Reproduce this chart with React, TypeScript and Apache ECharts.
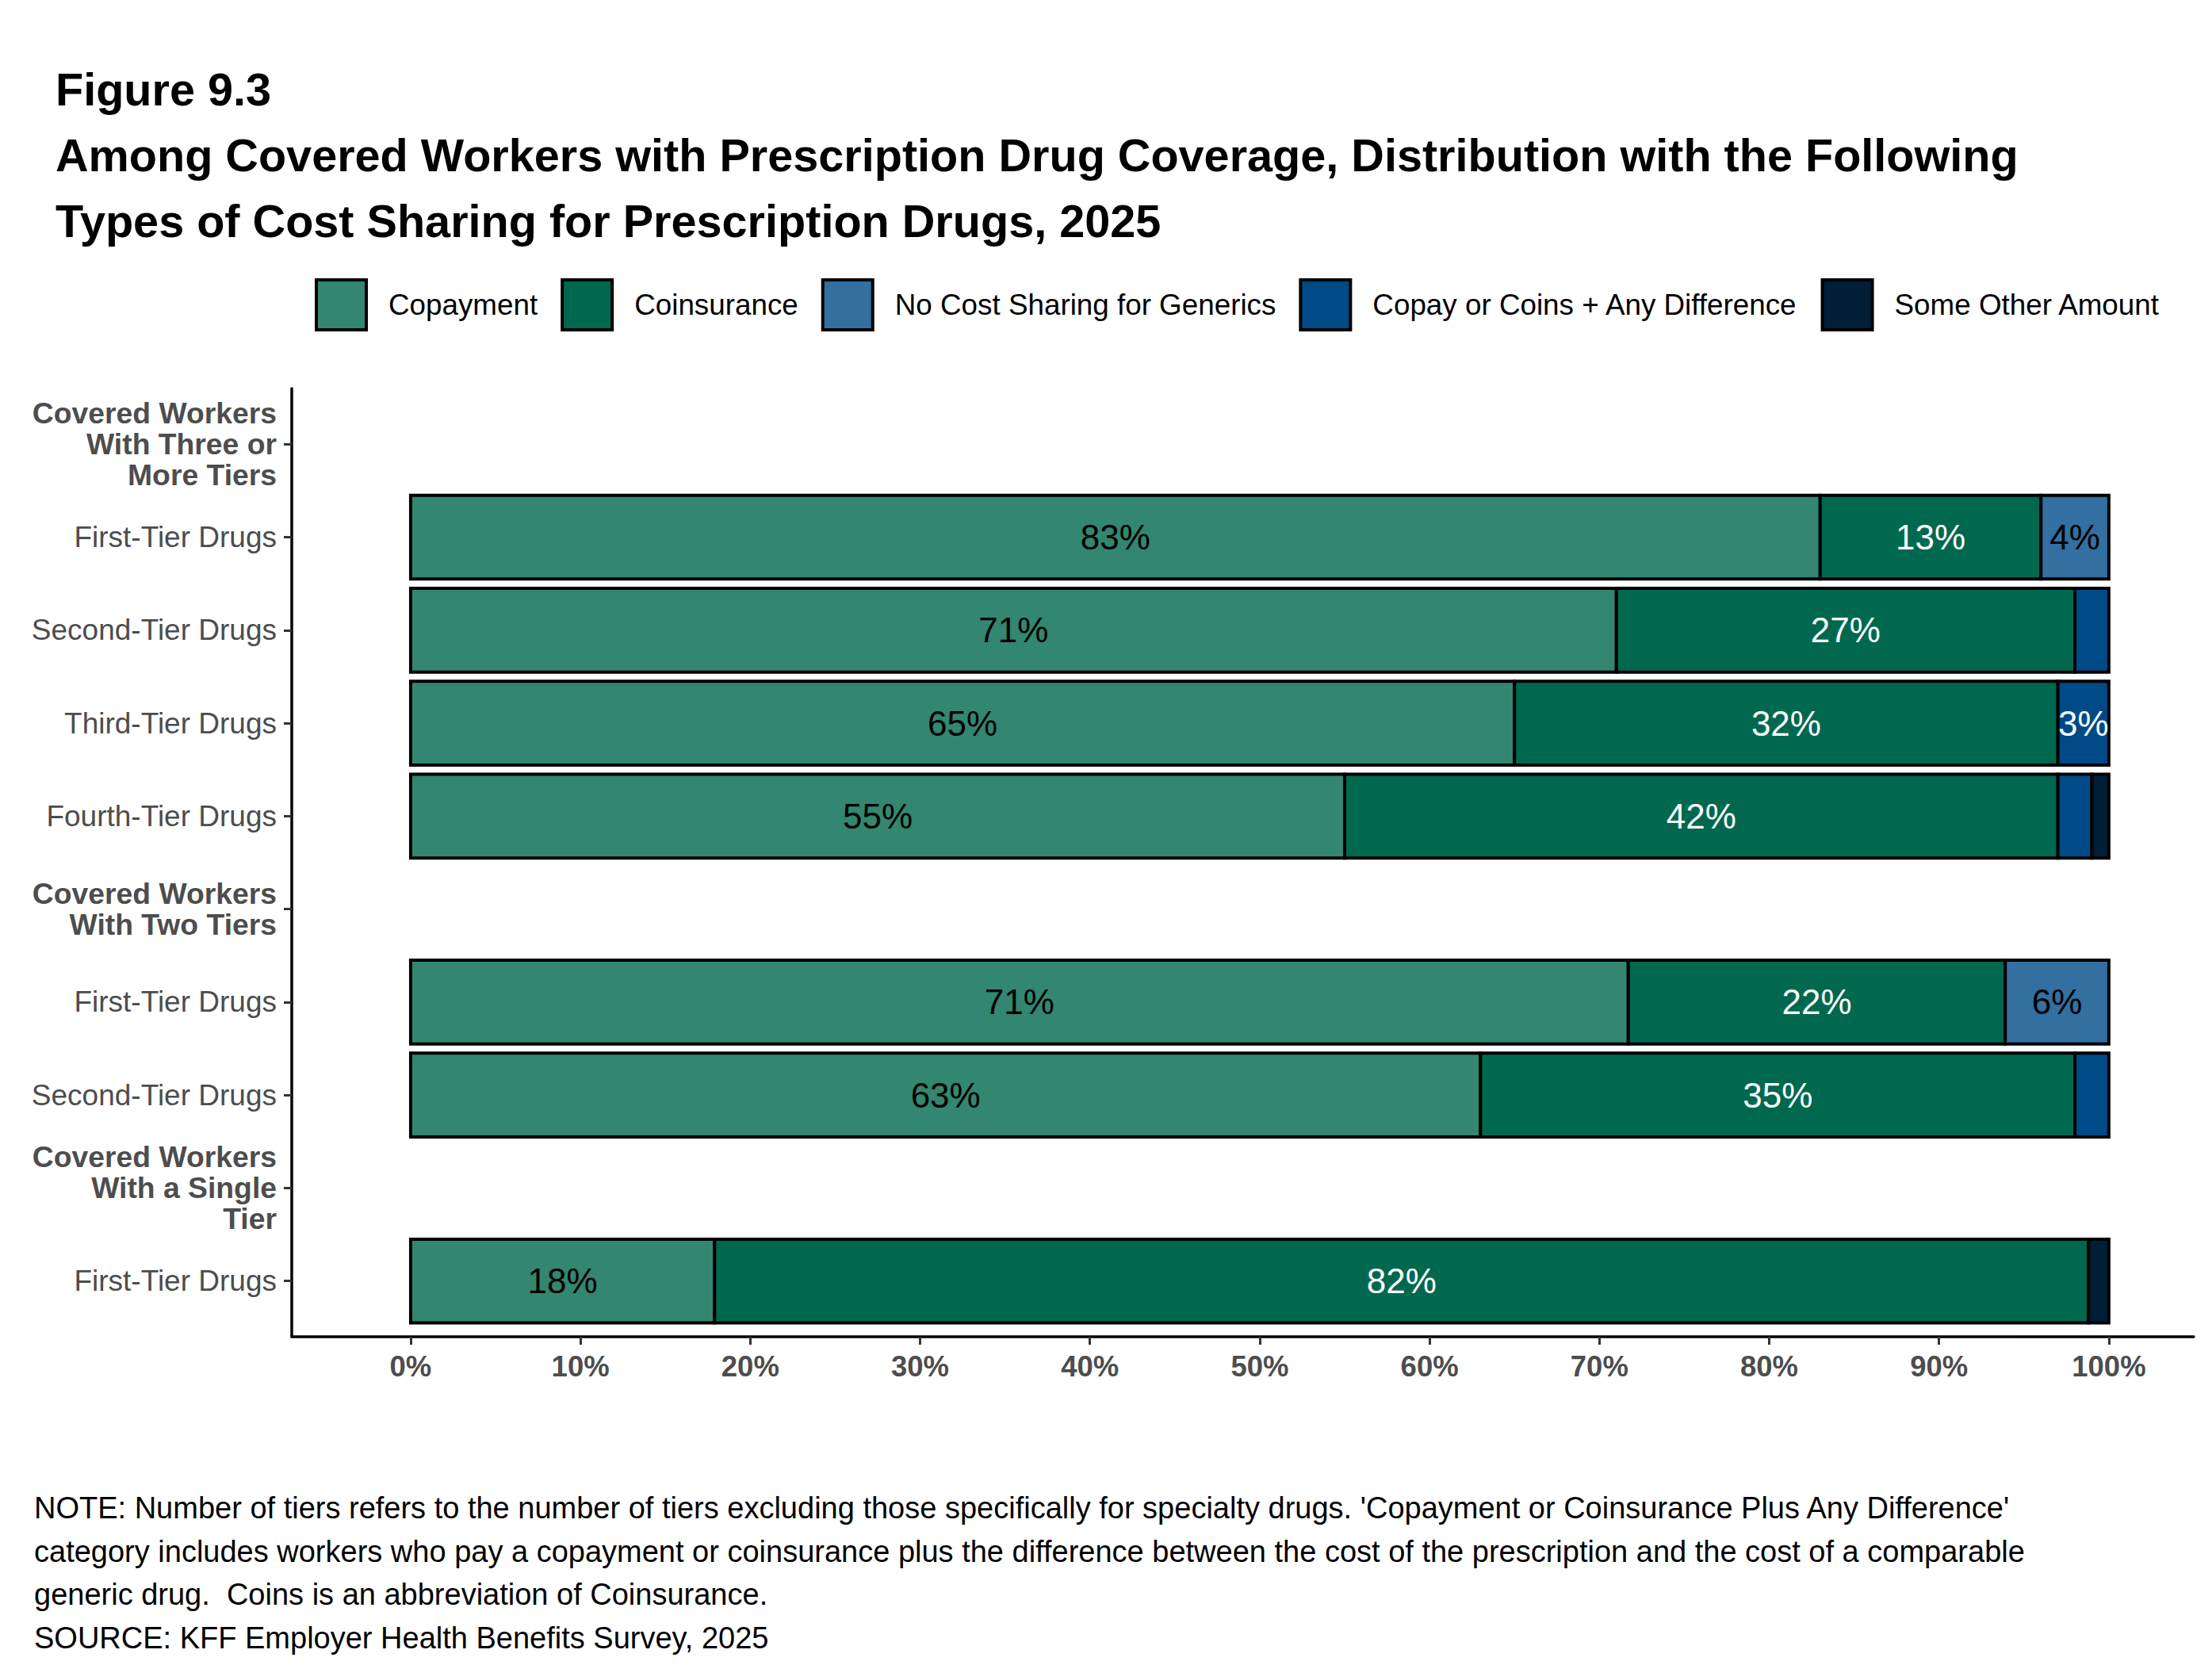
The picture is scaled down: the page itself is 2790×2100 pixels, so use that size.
import { useEffect, useRef } from "react";
import * as echarts from "echarts";

const FONT = "'Liberation Sans', Arial, sans-serif";

const rowLabels = [
  "Covered Workers\nWith Three or\nMore Tiers",
  "First-Tier Drugs",
  "Second-Tier Drugs",
  "Third-Tier Drugs",
  "Fourth-Tier Drugs",
  "Covered Workers\nWith Two Tiers",
  "First-Tier Drugs",
  "Second-Tier Drugs",
  "Covered Workers\nWith a Single\nTier",
  "First-Tier Drugs",
];
const headerRows = [true, false, false, false, false, true, false, false, true, false];

const seriesNames = [
  "Copayment",
  "Coinsurance",
  "No Cost Sharing for Generics",
  "Copay or Coins + Any Difference",
  "Some Other Amount",
];

// bar lengths (share of workers, %)
const copayment = [null, 83, 71, 65, 55, null, 71.7, 63, null, 17.9];
const coinsurance = [null, 13, 27, 32, 42, null, 22.2, 35, null, 80.9];
const noCostGenerics = [null, 4, 0, 0, 0, null, 6.1, 0, null, 0];
const copayCoinsDiff = [null, 0, 2, 3, 2, null, 0, 2, null, 0];
const someOther = [null, 0, 0, 0, 1, null, 0, 0, null, 1.2];

// printed labels
const copaymentLabels = [null, 83, 71, 65, 55, null, 71, 63, null, 18];
const coinsuranceLabels = [null, 13, 27, 32, 42, null, 22, 35, null, 82];
const noCostLabels = [null, 4, 0, 0, 0, null, 6, 0, null, 0];
const copayCoinsLabels = [null, 0, 2, 3, 2, null, 0, 2, null, 0];
const someOtherLabels = [null, 0, 0, 0, 1, null, 0, 0, null, 1];

const xTicks = [0, 10, 20, 30, 40, 50, 60, 70, 80, 90, 100];
const rowTicks = [0, 1, 2, 3, 4, 5, 6, 7, 8, 9];

const colors = ["#33866F", "#00684F", "#336FA0", "#004A87", "#001E36"];
const labelColors = ["#000000", "#ffffff", "#000000", "#ffffff", "#ffffff"];

const titleText =
  "Figure 9.3\nAmong Covered Workers with Prescription Drug Coverage, Distribution with the Following\nTypes of Cost Sharing for Prescription Drugs, 2025";
const noteText =
  "NOTE: Number of tiers refers to the number of tiers excluding those specifically for specialty drugs. 'Copayment or Coinsurance Plus Any Difference'\n" +
  "category includes workers who pay a copayment or coinsurance plus the difference between the cost of the prescription and the cost of a comparable\n" +
  "generic drug.  Coins is an abbreviation of Coinsurance.\n" +
  "SOURCE: KFF Employer Health Benefits Survey, 2025";

export default function App() {
  const chartRef = useRef(null);
  useEffect(() => {
    document.body.style.margin = "0";
    const chart = echarts.init(chartRef.current, null, { renderer: "svg" });
    chart.setOption(getChartOption());
    return () => {
      chart.dispose();
    };
  }, []);
  return <div ref={chartRef} style={{ width: "2790px", height: "2100px" }} />;
}

function getChartOption() {
  const values = [copayment, coinsurance, noCostGenerics, copayCoinsDiff, someOther];
  const labels = [copaymentLabels, coinsuranceLabels, noCostLabels, copayCoinsLabels, someOtherLabels];

  const cum = rowLabels.map(() => 0);
  const series = seriesNames.map((name, s) => {
    const data = [];
    rowLabels.forEach((_, i) => {
      const v = values[s][i];
      if (v == null || v <= 0) return;
      data.push([i, cum[i], cum[i] + v, labels[s][i]]);
      cum[i] += v;
    });
    return {
      type: "custom",
      name,
      coordinateSystem: "cartesian2d",
      encode: { x: [1, 2], y: 0 },
      itemStyle: { color: colors[s] },
      data,
      renderItem: (params, api) => {
        const row = api.value(0);
        const p0 = api.coord([api.value(1), row]);
        const p1 = api.coord([api.value(2), row]);
        const h = api.size([0, 0.9])[1];
        const lab = api.value(3);
        const children: any[] = [
          {
            type: "rect",
            shape: { x: p0[0], y: p0[1] - h / 2, width: p1[0] - p0[0], height: h },
            style: { fill: colors[s], stroke: "#000", lineWidth: 4 },
          },
        ];
        if (lab >= 3) {
          children.push({
            type: "text",
            x: (p0[0] + p1[0]) / 2,
            y: p0[1],
            style: {
              text: lab + "%",
              fill: labelColors[s],
              fontSize: 44,
              fontFamily: FONT,
              align: "center",
              verticalAlign: "middle",
            },
          });
        }
        return { type: "group", children };
      },
    };
  });

  const option = {
    animation: false,
    backgroundColor: "#ffffff",
    textStyle: { fontFamily: FONT },
    graphic: [
      {
        type: "text",
        x: 70,
        y: 71,
        style: {
          text: titleText,
          fontSize: 57.6,
          fontWeight: "bold",
          fontFamily: FONT,
          fill: "#000",
          lineHeight: 83,
        },
      },
      {
        type: "text",
        x: 43,
        y: 1875,
        style: {
          text: noteText,
          fontSize: 38,
          fontFamily: FONT,
          fill: "#000",
          lineHeight: 54.5,
        },
      },
    ],
    legend: {
      left: 397,
      top: 351,
      padding: 0,
      itemWidth: 63,
      itemHeight: 63,
      itemGap: 29,
      selectedMode: false,
      textStyle: { fontSize: 36.8, color: "#000", fontFamily: FONT, padding: [0, 0, 0, 23] },
      data: seriesNames.map((n, i) => ({
        name: n,
        icon: "rect",
        itemStyle: { color: colors[i], borderColor: "#000", borderWidth: 4 },
      })),
    },
    grid: {
      left: 368,
      right: 23,
      top: 490,
      bottom: 414,
      containLabel: false,
      outerBoundsMode: "none",
    },
    xAxis: {
      type: "value",
      min: -7,
      max: 105,
      splitLine: { show: false },
      axisLine: { show: true, onZero: false, lineStyle: { color: "#000", width: 3.5 } },
      axisTick: { show: true, customValues: xTicks, length: 10, lineStyle: { color: "#333", width: 3 } },
      axisLabel: {
        customValues: xTicks,
        formatter: "{value}%",
        fontWeight: "bold",
        fontSize: 36.5,
        color: "#4d4d4d",
        fontFamily: FONT,
        margin: 19,
      },
    },
    yAxis: {
      type: "value",
      inverse: true,
      min: -0.6,
      max: 9.6,
      splitLine: { show: false },
      axisLine: { show: true, onZero: false, lineStyle: { color: "#000", width: 3.5 } },
      axisTick: { show: true, customValues: rowTicks, length: 10, lineStyle: { color: "#333", width: 3 } },
      axisLabel: {
        customValues: rowTicks,
        margin: 19,
        color: "#4d4d4d",
        fontSize: 37,
        fontFamily: FONT,
        formatter: (v) => {
          const i = Math.round(v);
          return headerRows[i] ? "{h|" + rowLabels[i] + "}" : rowLabels[i];
        },
        rich: {
          h: {
            fontWeight: "bold",
            fontSize: 37.3,
            lineHeight: 39,
            color: "#4d4d4d",
            fontFamily: FONT,
            align: "right",
          },
        },
      },
    },
    series,
  };
  return option;
}
